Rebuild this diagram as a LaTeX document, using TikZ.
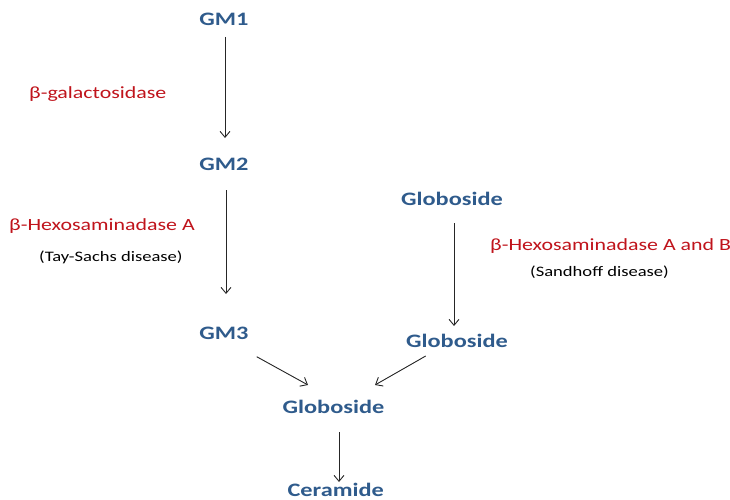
\documentclass[tikz,border=0pt]{standalone}
\usepackage{fontspec}
\setmainfont[FakeStretch=1.28]{Carlito}
\usetikzlibrary{arrows.meta}
\definecolor{nameblue}{HTML}{2F5B8C}
\definecolor{enzred}{HTML}{C0141C}
\tikzset{
  lipid/.style={anchor=base, inner sep=0pt, text=nameblue, font=\fontsize{19}{21}\selectfont\bfseries},
  enzyme/.style={anchor=base west, inner sep=0pt, text=enzred, font=\fontsize{17.1}{19}\selectfont},
  disease/.style={anchor=base west, inner sep=0pt, text=black, font=\fontsize{14.5}{16}\selectfont},
  arr/.style={draw=black!85, line width=0.9pt, -{Straight Barb[length=6pt,width=10pt,line width=0.9pt]}}
}
\begin{document}
\begin{tikzpicture}[x=1pt,y=-1pt]
\useasboundingbox (0,0) rectangle (730,500);
\fill[white] (0,0) rectangle (730,500);
\node[lipid] (gm1) at (224,26) {GM1};
\node[lipid] (gm2) at (224,170) {GM2};
\node[lipid] (gm3) at (224,339) {GM3};
\node[lipid] (globtop) at (452,205) {Globoside};
\node[lipid] (globmid) at (457,347) {Globoside};
\node[lipid] (globbot) at (333.5,413) {Globoside};
\node[lipid] (cer) at (335.7,496.5) {Ceramide};
\node[enzyme] (gal) at (29,99) {β-galactosidase};
\node[enzyme] (hexa) at (9,230) {β-Hexosaminadase A};
\node[disease] (tay) at (39,261.5) {(Tay-Sachs disease)};
\node[enzyme] (hexab) at (490,250.5) {β-Hexosaminadase A and B};
\node[disease] (sand) at (530,276) {(Sandhoff disease)};
\draw[arr] ([xshift=1pt,yshift=-11pt]gm1.base) -- ([xshift=1pt,yshift=32pt]gm2.base);
\draw[arr] ([xshift=2pt,yshift=-20pt]gm2.base) -- ([xshift=2pt,yshift=45pt]gm3.base);
\draw[arr] ([xshift=2pt,yshift=-18pt]globtop.base) -- ([xshift=-3pt,yshift=21pt]globmid.base);
\draw[arr] ([xshift=32.7pt,yshift=-17.7pt]gm3.base) -- ([xshift=-25.5pt,yshift=28pt]globbot.base);
\draw[arr] ([xshift=-31.3pt,yshift=-9pt]globmid.base) -- ([xshift=41.5pt,yshift=28pt]globbot.base);
\draw[arr] ([xshift=5.5pt,yshift=-19pt]globbot.base) -- ([xshift=3.3pt,yshift=14.5pt]cer.base);
\end{tikzpicture}
\end{document}
